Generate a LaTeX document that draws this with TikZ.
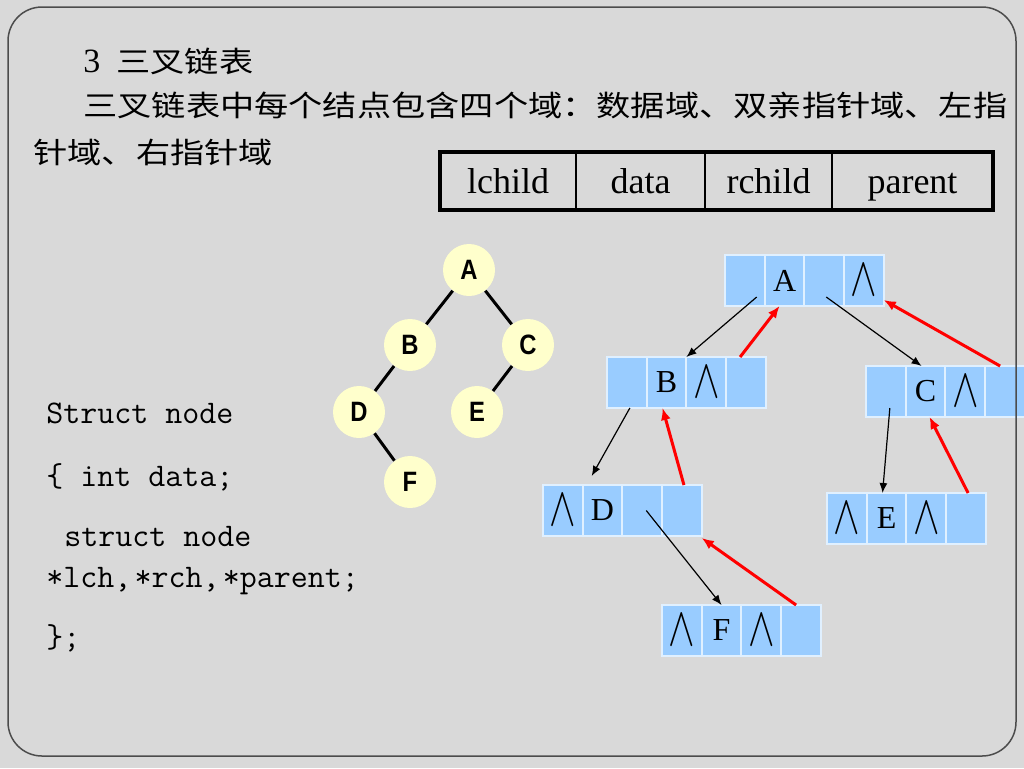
\documentclass[tikz,border=0pt]{standalone}
\usepackage{fontspec}
\setmainfont{Liberation Serif}
\setsansfont[FakeStretch=0.85]{Liberation Sans}
\newfontfamily\cjk[FakeStretch=1.18]{Noto Sans CJK SC}
\usetikzlibrary{trees,positioning,calc,arrows.meta}
\definecolor{slidebg}{HTML}{D9D9D9}
\definecolor{ballfill}{HTML}{FFFFCC}
\definecolor{cellblue}{HTML}{99CCFF}
\colorlet{cellgap}{white!70!cellblue}
\newcommand{\nullp}{\scalebox{1.15}[1.6]{$\wedge$}}

\begin{document}
\begin{tikzpicture}[x=0.5pt,y=-0.5pt,node distance=0pt,
    txt/.style={anchor=base west,inner sep=0pt,font=\fontsize{14.5}{14.5}\selectfont},
    code/.style={anchor=base west,inner sep=0pt,font=\ttfamily\fontsize{16.5}{16.5}\selectfont},
    field/.style={draw,line width=1pt,minimum height=29pt,text height=14pt,text depth=2pt,inner sep=0pt,outer sep=0pt,font=\fontsize{18}{18}\selectfont},
    ball/.style={circle,fill=ballfill,minimum size=26pt,inner sep=0pt,font=\sffamily\bfseries\fontsize{14}{14}\selectfont},
    cell/.style={fill=cellblue,draw=cellgap,line width=1pt,minimum width=19.85pt,minimum height=25.5pt,inner sep=0pt,outer sep=0pt,font=\fontsize{16}{16}\selectfont},
    link/.style={-{Latex[length=5pt,width=4pt]},line width=0.6pt},
    uplink/.style={-{Latex[length=6pt,width=5pt]},line width=1.5pt,red},
    level 1/.style={sibling distance=59pt,level distance=37.5pt,xshift=-3pt},
    level 2/.style={sibling distance=51pt,level distance=33.5pt},
    level 3/.style={sibling distance=51pt,level distance=35pt},
    edge from parent/.style={draw,line width=1.5pt}]
\fill[slidebg] (0,0) rectangle (1024,768);
\useasboundingbox (0,0) rectangle (1024,768);

% heading text
\node[txt] (title) at (83,72) {{\fontsize{17}{17}\selectfont 3}\hspace{8pt}{\cjk 三叉链表}};
\node[txt] (intro1) at (83,116) {\cjk 三叉链表中每个结点包含四个域：数据域、双亲指针域、左指};
\node[txt] (intro2) at (33,163) {\cjk 针域、右指针域};

% node layout
\node[field,minimum width=68pt,anchor=north west] (lch) at (440,152) {lchild};
\node[field,minimum width=64.5pt,right=of lch] (dat) {data};
\node[field,minimum width=63.5pt,right=of dat] (rch) {rchild};
\node[field,minimum width=80.5pt,right=of rch] (par) {parent};
\draw[line width=2pt] (lch.north west) rectangle (par.south east);

% binary tree
\node[ball] (A) at (469,270) {A}
    child { node[ball] (B) {B}
        child { node[ball] (D) {D}
            child[missing]
            child { node[ball] (F) {F} }
        }
        child[missing]
    }
    child { node[ball] (C) {C}
        child { node[ball] (E) {E} }
        child[missing]
    }
;

% struct declaration
\node[code] (c1) at (46,423) {Struct node};
\node[code] (c2) at (46,486) {\{ int data;};
\node[code] (c3) at (64,546) {struct node};
\node[code] (c4) at (46,587) {*lch,\hspace{0.1em}*rch,\hspace{0.1em}*parent;};
\node[code] (c5) at (46,647) {\};};

% trident list nodes
\node[cell,anchor=north west] (A1) at (725,255) {};
\node[cell,right=of A1] (A2) {A}; \node[cell,right=of A2] (A3) {}; \node[cell,right=of A3] (A4) {\nullp};
\node[cell,anchor=north west] (B1) at (607,357) {};
\node[cell,right=of B1] (B2) {B}; \node[cell,right=of B2] (B3) {\nullp}; \node[cell,right=of B3] (B4) {};
\node[cell,anchor=north west] (C1) at (866,366) {};
\node[cell,right=of C1] (C2) {C}; \node[cell,right=of C2] (C3) {\nullp}; \node[cell,right=of C3] (C4) {};
\node[cell,anchor=north west] (D1) at (543,485) {\nullp};
\node[cell,right=of D1] (D2) {D}; \node[cell,right=of D2] (D3) {}; \node[cell,right=of D3] (D4) {};
\node[cell,anchor=north west] (E1) at (827,493) {\nullp};
\node[cell,right=of E1] (E2) {E}; \node[cell,right=of E2] (E3) {\nullp}; \node[cell,right=of E3] (E4) {};
\node[cell,anchor=north west] (F1) at (662,605) {\nullp};
\node[cell,right=of F1] (F2) {F}; \node[cell,right=of F2] (F3) {\nullp}; \node[cell,right=of F3] (F4) {};

% child pointers
\draw[link] ($(A1.south east)+(-8,-9)$) -- (B2.north east);
\draw[link] ($(A3.south)+(2,-9)$) -- ($(C2.north)+(-4,0)$);
\draw[link] ($(B1.south)+(3,0)$) -- ($(D2.north west)+(9,-9)$);
\draw[link] ($(D3.center)+(4,0)$) -- (F2.north);
\draw[link] ($(C1.south)+(4,-9)$) -- ($(E2.north)+(-4,0)$);

% parent pointers
\draw[uplink] ($(B4.north west)+(14,0)$) -- ($(A2.south)+(-5,0)$);
\draw[uplink] ($(C4.north west)+(15,0)$) -- ($(A4.south east)+(0,-6)$);
\draw[uplink] ($(D4.north)+(2,0)$) -- ($(B2.south)+(-4,0)$);
\draw[uplink] ($(F4.north west)+(15,0)$) -- ($(D4.south east)+(0,2)$);
\draw[uplink] ($(E4.north west)+(22,0)$) -- ($(C2.south)+(4,0)$);

\draw[rounded corners=17pt,line width=0.75pt,black!70] (8,7) rectangle (1016,756);
\end{tikzpicture}
\end{document}
